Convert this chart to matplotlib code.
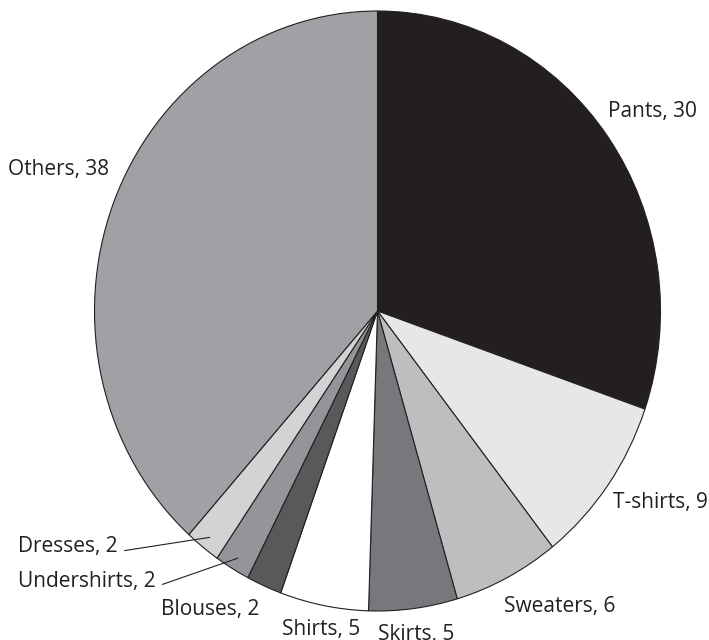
import numpy as np
import matplotlib.pyplot as plt

categories = ["Pants", "T-shirts", "Sweaters", "Skirts", "Shirts",
              "Blouses", "Undershirts", "Dresses", "Others"]
counts = [30, 9, 6, 5, 5, 2, 2, 2, 38]

colors = ["#231f20", "#e6e7e8", "#bcbec0", "#77787b", "#ffffff",
          "#58595b", "#939598", "#d1d3d4", "#9fa1a4"]

# label anchor (left, baseline) in pie units
label_pos = {
    "Pants": (0.815, 0.647),
    "T-shirts": (0.832, -0.657),
    "Sweaters": (0.447, -1.003),
    "Skirts": (0.002, -1.097),
    "Shirts": (-0.337, -1.08),
    "Blouses": (-0.765, -1.013),
    "Undershirts": (-1.27, -0.92),
    "Dresses": (-1.27, -0.803),
    "Others": (-1.306, 0.453),
}
with_leader = ["Undershirts", "Dresses"]

ink = "#231f20"
plt.rcParams["font.family"] = ["Open Sans", "DejaVu Sans"]

fig = plt.figure(figsize=(7.09, 6.40), dpi=100)
ax = fig.add_axes([0, 0, 1, 1])

wedges, _ = ax.pie(counts, colors=colors, startangle=90, counterclock=False,
                   wedgeprops=dict(edgecolor=ink, linewidth=0.8))

# slightly taller than wide, centred off-middle
ax.set_aspect("auto")
ax.set_xlim(-377.5 / 283, (709 - 377.5) / 283)
ax.set_ylim((311 - 640) / 300, 311 / 300)
ax.axis("off")

total = sum(counts)
start = 0
for name, val in zip(categories, counts):
    mid = 90 - (start + val / 2) / total * 360
    start += val
    x, y = label_pos[name]
    txt = f"{name}, {val}"
    if name in with_leader:
        a = np.deg2rad(mid)
        ax.annotate(txt, xy=(0.96 * np.cos(a), 0.96 * np.sin(a)), xytext=(x, y),
                    ha="left", va="baseline", fontsize=15, color=ink,
                    arrowprops=dict(arrowstyle="-", color=ink, lw=0.8,
                                    relpos=(1, 0.25), shrinkA=3, shrinkB=0))
    else:
        ax.text(x, y, txt, ha="left", va="baseline", fontsize=15, color=ink)

fig.savefig("out.png", dpi=100)
